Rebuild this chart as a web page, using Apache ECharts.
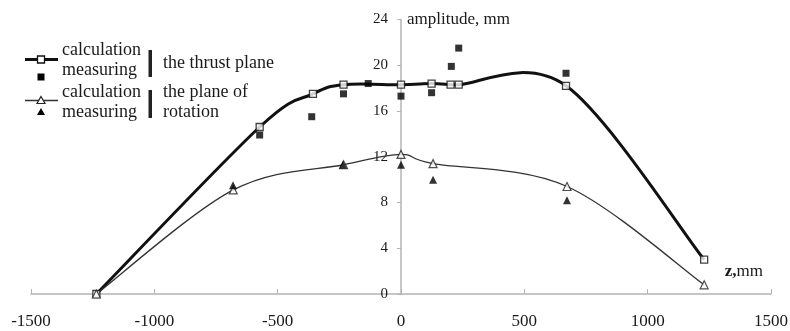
<!DOCTYPE html>
<html>
<head>
<meta charset="utf-8">
<script src="https://cdn.jsdelivr.net/npm/echarts@6/dist/echarts.min.js"></script>
<style>
  html, body { margin: 0; padding: 0; background: #fff; }
  #chart { width: 790px; height: 331px; }
</style>
</head>
<body>
<div id="chart"></div>
<script>
// amplitude along z: thrust plane / plane of rotation
const thrustCalcZ = [-1235, -573, -357, -233, 0, 124, 201, 234, 669, 1229];
const thrustCalcA = [0, 14.6, 17.5, 18.3, 18.3, 18.4, 18.3, 18.3, 18.2, 3.0];
const thrustMeasZ = [-573, -362, -233, -133, 0, 124, 204, 234, 669];
const thrustMeasA = [13.9, 15.5, 17.5, 18.4, 17.3, 17.6, 19.9, 21.5, 19.3];
const rotCalcZ = [-1235, -680, -233, 0, 130, 673, 1229];
const rotCalcA = [0, 9.1, 11.3, 12.2, 11.4, 9.4, 0.8];
const rotMeasZ = [-681, -235, 0, 130, 673];
const rotMeasA = [9.5, 11.3, 11.3, 10.0, 8.2];
const zTicks = [-1500, 1500, 500];   // min, max, step
const aTicks = [0, 24, 4];

const FONT = '"Liberation Serif", "DejaVu Serif", serif';
const INK = '#1a1a1a';
const AXIS = '#b4b4b4';

const zip = (xs, ys) => xs.map((x, i) => [x, ys[i]]);

// spreadsheet-style smoothed curve (catmull-rom as cubic bezier)
function smoothPath(pts) {
  const n = pts.length;
  const tan = pts.map((p, i) => {
    const a = pts[Math.max(i - 1, 0)], b = pts[Math.min(i + 1, n - 1)];
    return [(b[0] - a[0]) / 6, (b[1] - a[1]) / 6];
  });
  let d = 'M' + pts[0][0] + ' ' + pts[0][1];
  for (let i = 1; i < n; i++) {
    const p0 = pts[i - 1], p = pts[i];
    const c1 = [p0[0] + tan[i - 1][0], p0[1] + tan[i - 1][1]];
    const c2 = [p[0] - tan[i][0], p[1] - tan[i][1]];
    d += ' C' + c1[0] + ' ' + c1[1] + ' ' + c2[0] + ' ' + c2[1] + ' ' + p[0] + ' ' + p[1];
  }
  return d;
}

function curveSeries(name, zs, as, width, color) {
  return {
    name, type: 'custom', data: zip(zs, as), z: 2, silent: true,
    renderItem: (params, api) => {
      if (params.dataIndex !== 0) return null;
      const pts = zs.map((z, i) => api.coord([z, as[i]]));
      return {
        type: 'path',
        shape: { pathData: smoothPath(pts) },
        style: { fill: 'none', stroke: color, lineWidth: width, lineJoin: 'round' }
      };
    }
  };
}

const chart = echarts.init(document.getElementById('chart'), null, { renderer: 'canvas' });

// legend is drawn by hand: two rows per plane with a bracket bar
const legendText = (x, y, text) => ({
  type: 'text', left: x, top: y - 10,
  style: { text, font: '18px ' + FONT, fill: INK }
});

chart.setOption({
  animation: false,
  backgroundColor: '#fff',
  grid: { left: 31, right: 19, top: 19.5, bottom: 37, containLabel: false, outerBoundsMode: 'none' },
  xAxis: {
    type: 'value', min: zTicks[0], max: zTicks[1], interval: zTicks[2],
    name: '{b|z,}{n|mm}', nameLocation: 'end', nameGap: 0,
    nameTextStyle: {
      align: 'right', verticalAlign: 'bottom', padding: [0, 8, 14, 0],
      rich: {
        b: { fontFamily: FONT, fontSize: 17, fontWeight: 'bold', color: INK },
        n: { fontFamily: FONT, fontSize: 17, color: INK }
      }
    },
    axisLine: { onZero: false, lineStyle: { color: AXIS, width: 1.5 } },
    axisTick: { inside: true, length: 5, lineStyle: { color: AXIS } },
    axisLabel: { margin: 19, fontFamily: FONT, fontSize: 17, color: INK, formatter: (v) => String(v) },
    splitLine: { show: false }
  },
  yAxis: {
    type: 'value', min: aTicks[0], max: aTicks[1], interval: aTicks[2],
    position: 'left', offset: -370,
    name: 'amplitude, mm', nameLocation: 'end', nameGap: 0,
    nameTextStyle: { align: 'left', verticalAlign: 'middle', padding: [0, 0, 0, 6], fontFamily: FONT, fontSize: 17, color: INK },
    axisLine: { show: true, onZero: false, lineStyle: { color: AXIS, width: 1.5 } },
    axisTick: { show: true, inside: false, length: 4, lineStyle: { color: AXIS } },
    axisLabel: { margin: 13, fontFamily: FONT, fontSize: 15, color: INK },
    splitLine: { show: false }
  },
  series: [
    curveSeries('thrust calc line', thrustCalcZ, thrustCalcA, 3, '#111'),
    curveSeries('rotation calc line', rotCalcZ, rotCalcA, 1.3, '#333'),
    {
      name: 'thrust calc', type: 'scatter', data: zip(thrustCalcZ, thrustCalcA),
      symbol: 'rect', symbolSize: 7,
      itemStyle: { color: '#fff', borderColor: '#111', borderWidth: 1.3 }, z: 3
    },
    {
      name: 'rotation calc', type: 'scatter', data: zip(rotCalcZ, rotCalcA),
      symbol: 'triangle', symbolSize: 8,
      itemStyle: { color: '#fff', borderColor: '#222', borderWidth: 1.2 }, z: 3
    },
    {
      name: 'thrust meas', type: 'scatter', data: zip(thrustMeasZ, thrustMeasA),
      symbol: 'rect', symbolSize: 7, itemStyle: { color: '#000' }, z: 4
    },
    {
      name: 'rotation meas', type: 'scatter', data: zip(rotMeasZ, rotMeasA),
      symbol: 'triangle', symbolSize: 8, itemStyle: { color: '#000' }, z: 4
    }
  ],
  graphic: [
    // thrust plane rows
    { type: 'line', shape: { x1: 25, y1: 59.5, x2: 58, y2: 59.5 }, style: { stroke: '#111', lineWidth: 3 } },
    { type: 'rect', shape: { x: 37.5, y: 56, width: 7, height: 7 }, style: { fill: '#fff', stroke: '#111', lineWidth: 1.3 }, z: 10 },
    { type: 'rect', shape: { x: 37.5, y: 73.5, width: 7, height: 7 }, style: { fill: '#000' } },
    legendText(62, 51, 'calculation'),
    legendText(62, 71, 'measuring'),
    { type: 'rect', shape: { x: 148.5, y: 50, width: 3.5, height: 27 }, style: { fill: '#222' } },
    legendText(163, 64, 'the thrust plane'),
    // plane of rotation rows
    { type: 'line', shape: { x1: 25, y1: 100.5, x2: 58, y2: 100.5 }, style: { stroke: '#333', lineWidth: 1.3 } },
    { type: 'polygon', shape: { points: [[41, 96.5], [45, 103.5], [37, 103.5]] }, style: { fill: '#fff', stroke: '#222', lineWidth: 1.2 }, z: 10 },
    { type: 'polygon', shape: { points: [[41, 108], [45, 115], [37, 115]] }, style: { fill: '#000' } },
    legendText(62, 93, 'calculation'),
    legendText(62, 113, 'measuring'),
    { type: 'rect', shape: { x: 148.5, y: 90, width: 3.5, height: 28 }, style: { fill: '#222' } },
    legendText(163, 93, 'the plane of'),
    legendText(163, 113, 'rotation')
  ]
});
</script>
</body>
</html>
